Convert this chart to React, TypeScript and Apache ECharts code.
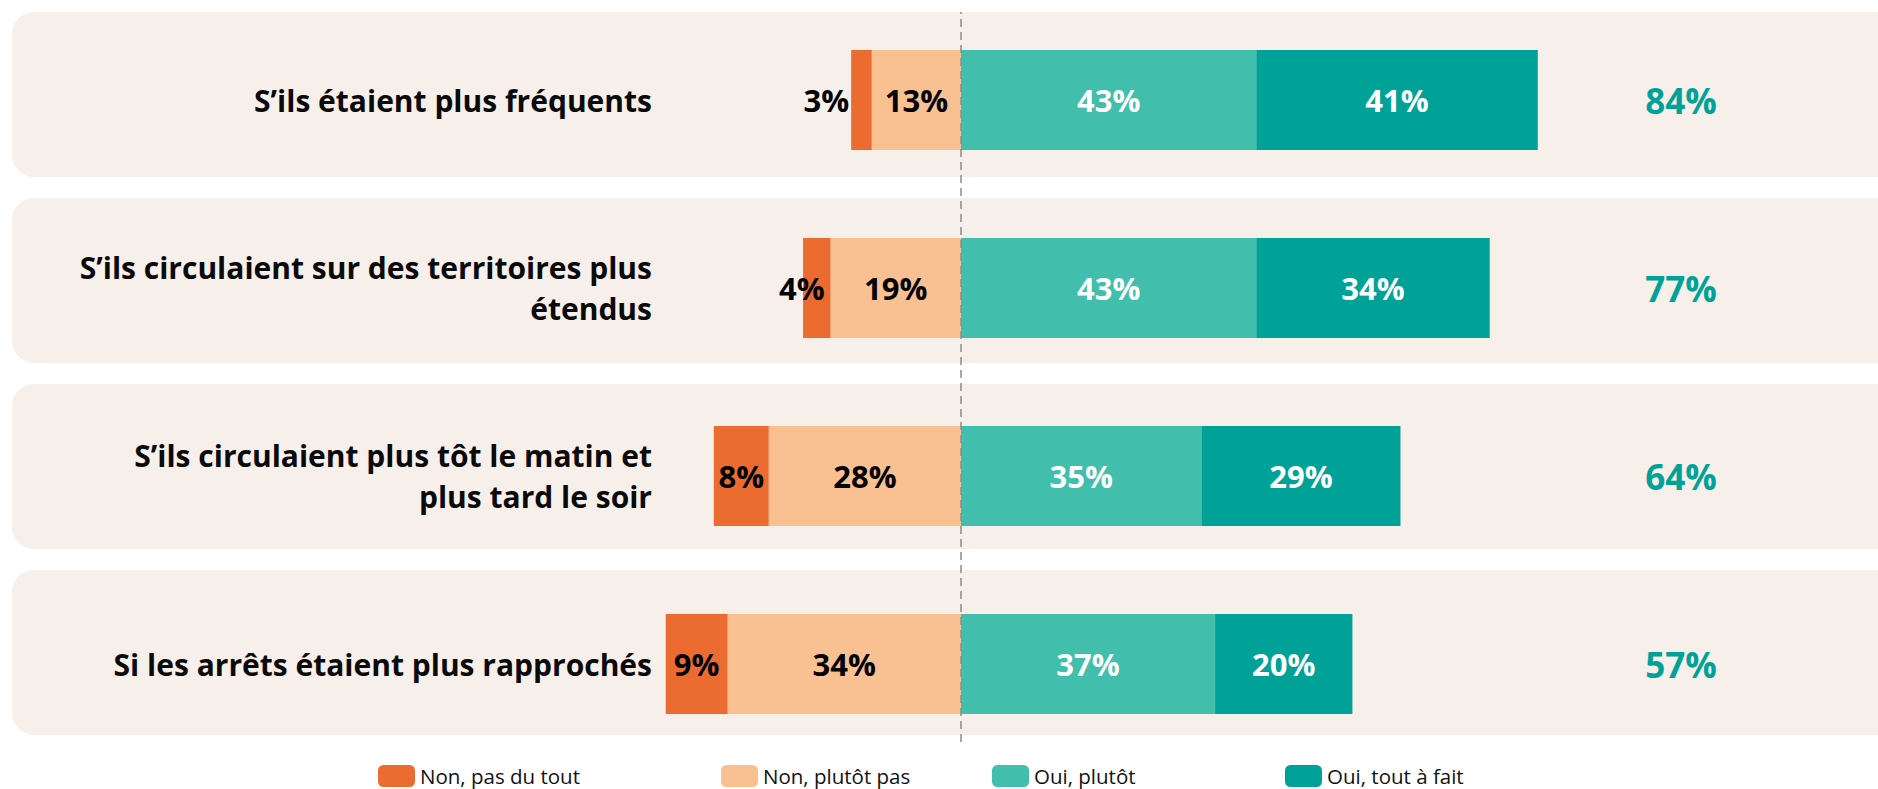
import React, { useEffect, useRef } from "react";
import * as echarts from "echarts";

const categories = [
  "S’ils étaient plus fréquents",
  "S’ils circulaient sur des territoires plus\nétendus",
  "S’ils circulaient plus tôt le matin et\nplus tard le soir",
  "Si les arrêts étaient plus rapprochés",
];
const nonPasDuTout = [3, 4, 8, 9];
const nonPlutotPas = [13, 19, 28, 34];
const ouiPlutot = [43, 43, 35, 37];
const ouiToutAFait = [41, 34, 29, 20];
const totals = [84, 77, 64, 57];
const panels = [1, 1, 1, 1];
const legendNames = ["Non, pas du tout", "Non, plutôt pas", "Oui, plutôt", "Oui, tout à fait"];
const legendLeft = [378, 721, 992, 1285];

const FONT = "'Open Sans', sans-serif";
const C_NPT = "#EC6B30";
const C_NPP = "#F9C192";
const C_OP = "#41BEAC";
const C_OTF = "#00A298";

export default function App() {
  const ref = useRef<HTMLDivElement>(null);
  useEffect(() => {
    if (!ref.current) return;
    const chart = echarts.init(ref.current, null, { renderer: "svg" });
    const barLabel = (color: string) => ({
      show: true,
      position: "inside",
      color,
      fontFamily: FONT,
      fontWeight: "bold",
      fontSize: 31,
      formatter: (p: any) => Math.abs(p.value) + "%",
    });
    const nptData = nonPasDuTout.map((v) => {
      const item: any = { value: -v };
      if (v <= 3) item.label = { position: "left", distance: 2 };
      else if (v <= 4) item.label = { offset: [-15, 0] };
      return item;
    });
    chart.setOption({
      animation: false,
      backgroundColor: "#FFFFFF",
      grid: [
        { left: 652, width: 1030, top: 6, height: 752 },
        { left: 12, right: 0, top: 1.5, height: 744 },
        { left: 652, width: 1030, top: 12, height: 730 },
      ],
      legend: legendNames.map((name, i) => ({
        data: [name],
        left: legendLeft[i],
        top: 765,
        padding: 0,
        itemWidth: 37,
        itemHeight: 22,
        icon: "roundRect",
        selectedMode: false,
        textStyle: { fontFamily: FONT, fontSize: 20.5, lineHeight: 22, color: "#111111" },
      })),
      xAxis: [
        { type: "value", gridIndex: 0, min: -45, max: 105, show: false },
        { type: "value", gridIndex: 1, min: 0, max: 1, show: false },
        { type: "value", gridIndex: 2, min: -45, max: 105, show: false },
      ],
      yAxis: [
        {
          type: "category",
          gridIndex: 0,
          data: categories,
          inverse: true,
          axisLine: { show: false },
          axisTick: { show: false },
          axisLabel: {
            margin: 0,
            fontFamily: FONT,
            fontWeight: "bold",
            fontSize: 30,
            lineHeight: 41,
            color: "#0A0A0A",
            align: "right",
          },
        },
        {
          type: "category",
          gridIndex: 0,
          position: "right",
          data: totals.map((t) => t + "%"),
          inverse: true,
          axisLine: { show: false },
          axisTick: { show: false },
          axisLabel: {
            margin: -1,
            align: "center",
            padding: [10, 0, 0, 0],
            fontFamily: FONT,
            fontWeight: "bold",
            fontSize: 35,
            color: C_OTF,
          },
        },
        { type: "category", gridIndex: 1, data: categories, inverse: true, show: false },
        { type: "value", gridIndex: 2, min: 0, max: 1, show: false },
      ],
      series: [
        {
          name: "panel",
          type: "bar",
          xAxisIndex: 1,
          yAxisIndex: 2,
          data: panels,
          barWidth: 165,
          silent: true,
          z: 0,
          itemStyle: { color: "#F6EFEA", borderRadius: [22, 0, 0, 22] },
        },
        {
          name: "Non, plutôt pas",
          type: "bar",
          stack: "s",
          barWidth: 100,
          data: nonPlutotPas.map((v) => -v),
          itemStyle: { color: C_NPP },
          label: barLabel("#000000"),
          z: 3,
        },
        {
          name: "Non, pas du tout",
          type: "bar",
          stack: "s",
          barWidth: 100,
          data: nptData,
          itemStyle: { color: C_NPT },
          label: barLabel("#000000"),
          z: 3,
        },
        {
          name: "Oui, plutôt",
          type: "bar",
          stack: "s",
          barWidth: 100,
          data: ouiPlutot,
          itemStyle: { color: C_OP },
          label: barLabel("#FFFFFF"),
          z: 3,
        },
        {
          name: "Oui, tout à fait",
          type: "bar",
          stack: "s",
          barWidth: 100,
          data: ouiToutAFait,
          itemStyle: { color: C_OTF },
          label: barLabel("#FFFFFF"),
          z: 3,
        },
        {
          name: "zero",
          type: "line",
          xAxisIndex: 2,
          yAxisIndex: 3,
          data: [],
          silent: true,
          z: 5,
          markLine: {
            silent: true,
            symbol: ["none", "none"],
            label: { show: false },
            lineStyle: { color: "#8C8C8C", type: [8, 5], width: 1.5 },
            data: [{ xAxis: 0 }],
          },
        },
      ],
    });
    return () => chart.dispose();
  }, []);
  return (
    <div
      ref={ref}
      style={{ position: "fixed", left: 0, top: 0, width: 1878, height: 789 }}
    />
  );
}
